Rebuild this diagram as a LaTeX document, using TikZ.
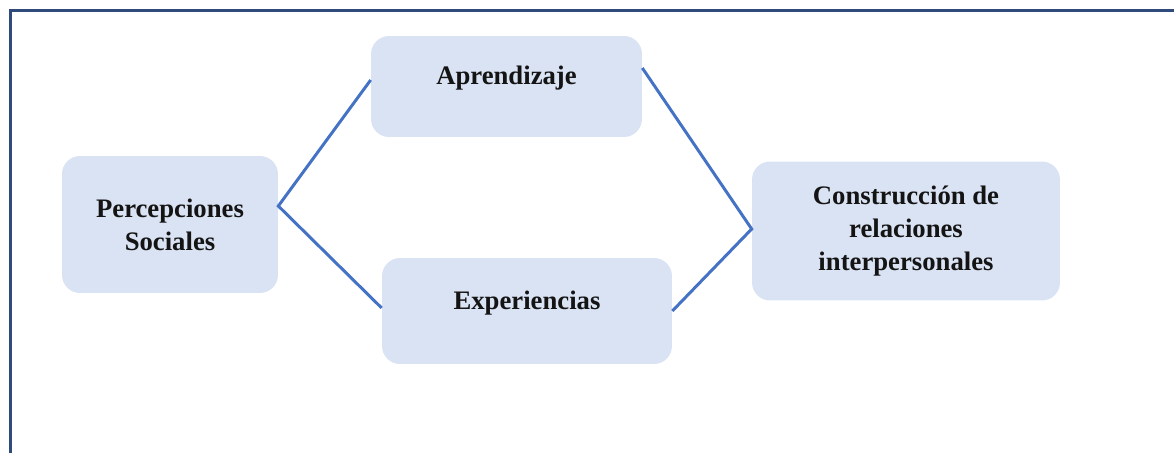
\documentclass[tikz,border=0pt]{standalone}
\usepackage{fontspec}
\setmainfont{Liberation Serif}
\usepackage{tikz}

\definecolor{boxfill}{HTML}{DAE3F3}
\definecolor{linkblue}{HTML}{4472C4}
\definecolor{framenavy}{HTML}{2F4B7C}
\definecolor{textgray}{HTML}{141414}

\tikzset{
  idea/.style = {fill = boxfill, rounded corners = 0.36cm, align = center,
                 text = textgray, font = \fontsize{15.2}{18.8}\selectfont\bfseries},
  link/.style = {linkblue, line width = 1.7pt}
}

\begin{document}
\begin{tikzpicture}[x = 0.02cm, y = -0.02cm]
  \useasboundingbox (0, 0) rectangle (1174, 453);
  \draw [framenavy, line width = 1.6pt] (10.5, 460) -- (10.5, 10.5) -- (1180, 10.5);

  \node [idea, minimum width = 4.32cm, minimum height = 2.74cm] (perc) at (170, 224.5) {Percepciones\\Sociales};
  \node [idea, minimum width = 5.42cm, minimum height = 2.02cm] (apre) at (506.5, 86.5) {\raisebox{0.16cm}[\height][\depth]{Aprendizaje}};
  \node [idea, minimum width = 5.8cm, minimum height = 2.12cm] (expe) at (527, 311) {\raisebox{0.16cm}[\height][\depth]{Experiencias}};
  \node [idea, minimum width = 6.16cm, minimum height = 2.78cm] (cons) at (906, 231) {Construcción de\\relaciones\\interpersonales};

  \draw [link] ([yshift = 0.13cm] apre.west) -- ([yshift = 0.37cm] perc.east) -- ([yshift = 0.06cm] expe.west);
  \draw [link] ([yshift = 0.37cm] apre.east) -- ([yshift = 0.04cm] cons.west) -- (expe.east);
\end{tikzpicture}
\end{document}
